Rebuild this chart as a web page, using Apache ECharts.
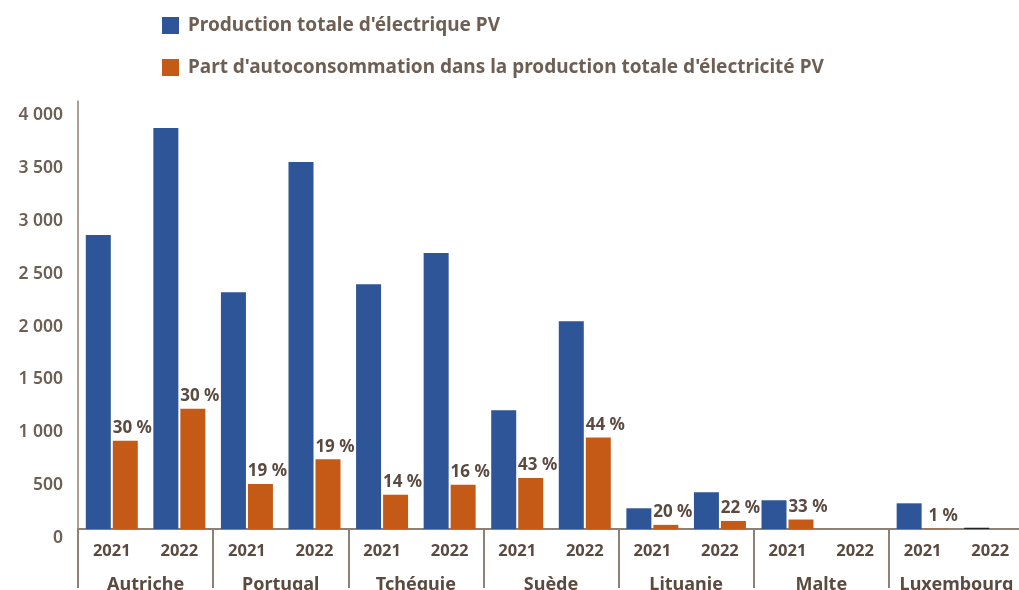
<!DOCTYPE html>
<html>
<head>
<meta charset="utf-8">
<script src="https://cdn.jsdelivr.net/npm/echarts@6/dist/echarts.min.js"></script>
<style>
  html, body { margin: 0; padding: 0; background: #ffffff; }
  #chart { width: 1019px; height: 590px; }
</style>
</head>
<body>
<div id="chart"></div>
<script>
// Countries, each shown for two years
const countries = ['Autriche', 'Portugal', 'Tchéquie', 'Suède', 'Lituanie', 'Malte', 'Luxembourg'];
const years = ['2021', '2022'];

// Total PV electricity production (GWh), one value per country-year
const totalProduction = [2781, 3794, 2241, 3472, 2317, 2611, 1124, 1967, 196, 347, 272, null, 243, 12];

// Self-consumption share of total PV production (%)
const selfShare = [30, 30, 19, 19, 14, 16, 43, 44, 20, 22, 33, null, 1, null];

// Y axis tick labels
const yTicks = [0, 500, 1000, 1500, 2000, 2500, 3000, 3500, 4000];

const legendNames = [
  "Production totale d'électrique PV",
  "Part d'autoconsommation dans la production totale d'électricité PV"
];

const BLUE = '#2e5597';
const ORANGE = '#c55a17';
const TEXT_DARK = '#5a4a40';
const TEXT_MID = '#6e5f55';
const AXIS = '#8f8075';
const FONT = '"Noto Sans", "Open Sans", sans-serif';

const yearCats = [];
countries.forEach(c => years.forEach(y => yearCats.push(y)));

// Self-consumed volume = total × share
const selfVolume = totalProduction.map((t, i) =>
  (t == null || selfShare[i] == null) ? null : t * selfShare[i] / 100);

const fmtThousands = v => String(v).replace(/\B(?=(\d{3})+(?!\d))/g, ' ');

const blueData = totalProduction.map((v, i) => {
  // Luxembourg 2022 is only a trace at the baseline
  if (i === 13) return { value: v, itemStyle: { color: '#222222' } };
  return v;
});

const chart = echarts.init(document.getElementById('chart'), null, { renderer: 'canvas' });

chart.setOption({
  animation: false,
  backgroundColor: '#ffffff',
  textStyle: { fontFamily: FONT },
  legend: {
    orient: 'vertical',
    left: 162,
    top: 16,
    padding: 0,
    itemWidth: 17,
    itemHeight: 17,
    itemGap: 23,
    icon: 'rect',
    selectedMode: false,
    data: legendNames,
    textStyle: {
      fontFamily: FONT,
      fontSize: 19,
      fontWeight: 'bold',
      color: TEXT_MID,
      lineHeight: 17,
      padding: [0, 0, 0, 4]
    }
  },
  grid: {
    left: 78,
    top: 101,
    width: 946,
    bottom: 61,
    containLabel: false,
    outerBoundsMode: 'none'
  },
  xAxis: [
    {
      type: 'category',
      data: yearCats,
      position: 'bottom',
      axisLine: { show: true, lineStyle: { color: AXIS, width: 2 } },
      axisTick: { show: false },
      axisLabel: {
        interval: 0,
        margin: 14,
        fontFamily: FONT,
        fontSize: 16.5,
        fontWeight: 'bold',
        color: TEXT_DARK
      }
    },
    {
      type: 'category',
      data: countries,
      position: 'bottom',
      axisLine: { show: false },
      axisTick: {
        show: true,
        interval: 0,
        length: 59,
        lineStyle: { color: AXIS, width: 2 }
      },
      axisLabel: {
        interval: 0,
        margin: 47,
        fontFamily: FONT,
        fontSize: 18,
        fontWeight: 'bold',
        color: TEXT_DARK
      }
    }
  ],
  yAxis: {
    type: 'value',
    min: 0,
    max: 4050,
    interval: 500,
    splitLine: { show: false },
    axisTick: { show: false },
    axisLine: { show: true, lineStyle: { color: AXIS, width: 1.5 } },
    axisLabel: {
      margin: 15,
      fontFamily: FONT,
      fontSize: 17.5,
      fontWeight: 600,
      color: TEXT_MID,
      verticalAlign: 'top',
      formatter: v => yTicks.includes(v) ? fmtThousands(v) : ''
    }
  },
  series: [
    {
      name: legendNames[0],
      type: 'bar',
      xAxisIndex: 0,
      data: blueData,
      barWidth: 25,
      barGap: '8%',
      itemStyle: { color: BLUE }
    },
    {
      name: legendNames[1],
      type: 'bar',
      xAxisIndex: 0,
      data: selfVolume,
      barWidth: 25,
      barGap: '8%',
      itemStyle: { color: ORANGE },
      label: {
        show: true,
        position: 'top',
        distance: 4,
        offset: [7, 0],
        fontFamily: FONT,
        fontSize: 17,
        fontWeight: 'bold',
        color: TEXT_DARK,
        formatter: p => selfShare[p.dataIndex] == null ? '' : selfShare[p.dataIndex] + ' %'
      }
    }
  ]
});
</script>
</body>
</html>
